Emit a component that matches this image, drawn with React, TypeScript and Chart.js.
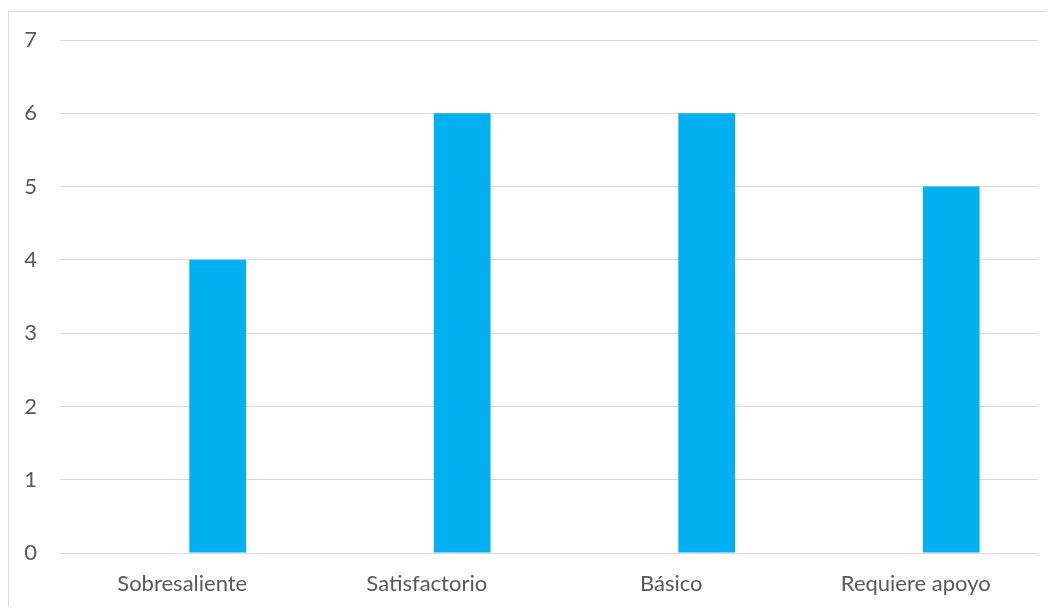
import React, { useEffect, useRef } from "react";
import { Chart, registerables } from "chart.js";

Chart.register(...registerables);

const categories = ["Sobresaliente", "Satisfactorio", "Básico", "Requiere apoyo"];
const emptySeries = [null, null, null, null];
const values = [4, 6, 6, 5];
const yTicks = [0, 1, 2, 3, 4, 5, 6, 7];

export default function App() {
  const ref = useRef<HTMLCanvasElement | null>(null);

  useEffect(() => {
    if (!ref.current) return;
    const chart = new Chart(ref.current, {
      type: "bar",
      data: {
        labels: categories,
        datasets: [
          { label: "Serie 1", data: emptySeries as any, backgroundColor: "#00B0F0" },
          { label: "Serie 2", data: values, backgroundColor: "#00B0F0" },
        ],
      },
      options: {
        animation: false,
        responsive: false,
        maintainAspectRatio: false,
        layout: { padding: { top: 28, right: 8, left: 0, bottom: 0 } },
        plugins: { legend: { display: false }, tooltip: { enabled: false } },
        datasets: { bar: { categoryPercentage: 0.58, barPercentage: 0.8 } },
        scales: {
          x: {
            grid: { display: false, drawTicks: false },
            border: { display: true, color: "#d9d9d9", width: 1 },
            ticks: {
              color: "#595959",
              font: { family: "Lato", size: 22 },
              padding: 18,
              maxRotation: 0,
            },
            afterFit: (s: any) => {
              s.height = 53;
            },
          },
          y: {
            min: 0,
            max: 7,
            afterBuildTicks: (s: any) => {
              s.ticks = yTicks.map((v) => ({ value: v }));
            },
            grid: { color: "#d9d9d9", lineWidth: 1, drawTicks: false },
            border: { display: false },
            ticks: {
              color: "#595959",
              font: { family: "Lato", size: 22 },
              padding: 23,
            },
            afterFit: (s: any) => {
              s.width = 51;
            },
          },
        },
      },
      plugins: [
        {
          id: "fixArea",
          afterLayout(c: any) {
            const a = c.chartArea;
            const top = 28;
            const dy = a.top - top;
            if (dy !== 0) {
              a.top = top;
              a.height = a.bottom - a.top;
              const y = c.scales.y;
              y.top = top;
              y.height = y.bottom - y.top;
              y.configure && y.configure();
            }
          },
        },
      ],
    });
    return () => chart.destroy();
  }, []);

  return (
    <div
      style={{
        position: "relative",
        width: 1037,
        height: 594,
        marginTop: 3,
        borderTop: "1px solid #d9d9d9",
        borderLeft: "1px solid #d9d9d9",
        background: "#fff",
      }}
    >
      <canvas ref={ref} width={1037} height={594} style={{ display: "block" }} />
    </div>
  );
}
